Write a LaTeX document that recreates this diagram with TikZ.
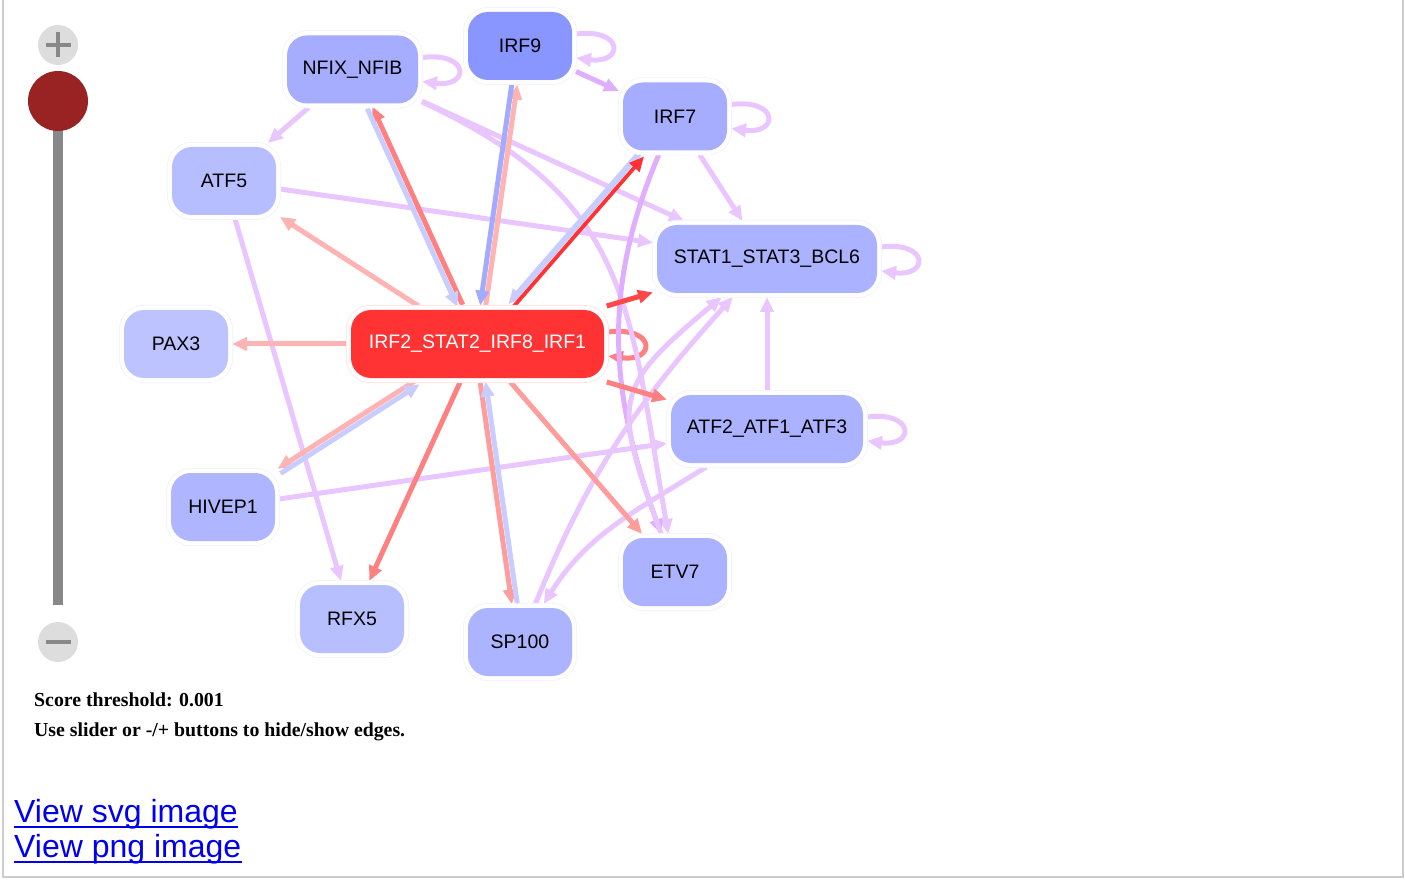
\documentclass[tikz,border=0pt]{standalone}
\usepackage{fontspec}
\setmainfont{Liberation Serif}
\newfontfamily\arialf{Liberation Sans}
\usetikzlibrary{arrows.meta,backgrounds,calc}
\definecolor{lav}{HTML}{E9C6FF}
\definecolor{lavd}{HTML}{E0AEFF}
\definecolor{pinkE}{HTML}{FFB3B3}
\definecolor{redM}{HTML}{FF8080}
\definecolor{redL}{HTML}{FF9C9C}
\definecolor{redS}{HTML}{FF4747}
\definecolor{redX}{HTML}{FF3333}
\definecolor{bluE}{HTML}{C8CCFF}
\definecolor{bluD}{HTML}{A3ABFF}
\definecolor{haloB}{HTML}{EEF0FF}
\definecolor{haloR}{HTML}{FFDCDC}
\definecolor{cNfix}{HTML}{A6ADFF}
\definecolor{cIrf9}{HTML}{8A96FF}
\definecolor{cIrf7}{HTML}{A6ADFF}
\definecolor{cAtf5}{HTML}{B7BEFF}
\definecolor{cStat}{HTML}{ABB2FF}
\definecolor{cPax}{HTML}{BDC3FF}
\definecolor{cAtf2}{HTML}{ABB2FF}
\definecolor{cHiv}{HTML}{AFB6FF}
\definecolor{cEtv}{HTML}{ABB2FF}
\definecolor{cRfx}{HTML}{B8BFFF}
\definecolor{cSp}{HTML}{ADB4FF}
\definecolor{cIrf2}{HTML}{FF3333}
\definecolor{btnC}{HTML}{DDDDDD}
\definecolor{grayS}{HTML}{888888}
\definecolor{knobC}{HTML}{992222}
\definecolor{linkC}{HTML}{0000EE}
\definecolor{borderC}{HTML}{CCCCCC}
\begin{document}
\begin{tikzpicture}[x=1pt,y=-1pt,
  nd/.style 2 args={fill=#1, rounded corners=20pt, minimum height=68pt,
    minimum width=104pt, inner sep=0pt, outer sep=4pt,
    font=\arialf\fontsize{19.5}{23}\selectfont,
    preaction={draw=#2, line width=10pt},
    preaction={draw=white, line width=8.6pt}},
  e/.style={draw=#1, line width=5pt, -{Triangle[length=15pt,width=13pt]}},
  lbl/.style={anchor=base west, inner sep=0pt}]
\useasboundingbox (0,0) rectangle (1405,882);
\draw[borderC, line width=2pt] (3,0) -- (3,877) -- (1403,877) -- (1403,0);

% nodes
\node[nd={cNfix}{haloB}, minimum width=131pt] (nfix) at (352.5,69.5) {NFIX\_NFIB};
\node[nd={cIrf9}{haloB}] (irf9) at (520,46) {IRF9};
\node[nd={cIrf7}{haloB}] (irf7) at (675,116.5) {IRF7};
\node[nd={cAtf5}{haloB}] (atf5) at (224,181) {ATF5};
\node[nd={cStat}{haloB}, minimum width=220pt] (stat) at (767,259) {STAT1\_STAT3\_BCL6};
\node[nd={cPax}{haloB}] (pax3) at (176,344) {PAX3};
\node[nd={cIrf2}{haloR}, minimum width=253pt, text=white] (irf2) at (477.5,344) {IRF2\_STAT2\_IRF8\_IRF1};
\node[nd={cAtf2}{haloB}, minimum width=192pt] (atf2) at (767,429) {ATF2\_ATF1\_ATF3};
\node[nd={cHiv}{haloB}] (hivep) at (223,507) {HIVEP1};
\node[nd={cEtv}{haloB}] (etv7) at (675,572) {ETV7};
\node[nd={cRfx}{haloB}] (rfx5) at (352,619) {RFX5};
\node[nd={cSp}{haloB}] (sp100) at (520,642) {SP100};

\begin{scope}[on background layer]
% self loops
\foreach \n/\c in {nfix/lav,irf9/lav,irf7/lav,stat/lav,atf2/lav,irf2/redM}
  \draw[e=\c] ($(\n.east)+(0,-12)$) .. controls +(48,-6) and +(48,6) .. ($(\n.east)+(0,12)$);
% lavender straight
\draw[e=lav] (nfix) -- (atf5);
\draw[e=lavd] (irf9) -- (irf7);
\draw[e=lav] (nfix) -- (stat);
\draw[e=lav] (atf5) -- (stat);
\draw[e=lav] (atf5) -- (rfx5);
\draw[e=lav] (irf7) -- (stat);
\draw[e=lav] (atf2) -- (stat);
\draw[e=lav] (hivep) -- (atf2);
% lavender curved
\draw[e=lav] (nfix) to[out=-25, in=100, looseness=1.2] (etv7);
\draw[e=lavd] (irf7) to[out=-113, in=110] (etv7);
\draw[e=lav] (sp100) to[out=68, in=-132] (stat);
\draw[e=lav] (etv7) to[out=110, in=-140, looseness=1.5] (stat);
\draw[e=lav] (atf2) to[out=-148, in=58] (sp100);
% red single
\draw[e=pinkE] (irf2) -- (atf5);
\draw[e=pinkE] (irf2) -- (pax3);
\draw[e=redM] (irf2) -- (rfx5);
\draw[e=redL] (irf2) -- (etv7);
\draw[e=redS] (irf2) -- (stat);
\draw[e=redM] (irf2) -- (atf2);
% pairs
\draw[e=redM, transform canvas={xshift=2.5pt, yshift=1.15pt}] (irf2) -- (nfix);
\draw[e=bluE, transform canvas={xshift=-2.5pt, yshift=-1.15pt}] (nfix) -- (irf2);
\draw[e=pinkE, transform canvas={xshift=2.7pt, yshift=-0.4pt}] (irf2) -- (irf9);
\draw[e=bluD, transform canvas={xshift=-2.7pt, yshift=0.4pt}] (irf9) -- (irf2);
\draw[e=bluE, line width=6pt, transform canvas={xshift=-2.1pt, yshift=1.8pt}] (irf7) -- (irf2);
\draw[e=redX, line width=3.8pt, transform canvas={xshift=2.1pt, yshift=-1.8pt}] (irf2) -- (irf7);
\draw[e=pinkE, transform canvas={xshift=-1.5pt, yshift=2.3pt}] (irf2) -- (hivep);
\draw[e=bluE, transform canvas={xshift=1.5pt, yshift=-2.3pt}] (hivep) -- (irf2);
\draw[e=redL, transform canvas={xshift=-2.7pt, yshift=-0.4pt}] (irf2) -- (sp100);
\draw[e=bluE, transform canvas={xshift=2.7pt, yshift=0.4pt}] (sp100) -- (irf2);
\end{scope}

% slider
\fill[btnC] (58,45) circle[radius=20];
\draw[grayS, line width=4pt] (45.5,45) -- (70.5,45) (58,32.5) -- (58,57.5);
\fill[grayS] (53,101) rectangle (63,605);
\fill[knobC] (58,101) circle[radius=30];
\fill[btnC] (58,642) circle[radius=20];
\draw[grayS, line width=4pt] (45.5,642) -- (70.5,642);

% texts
\node[lbl, font=\bfseries\fontsize{19.8}{24}\selectfont] (score) at (34,706) {Score threshold: 0.001};
\node[lbl, font=\bfseries\fontsize{19.8}{24}\selectfont] (use) at (34,736) {Use slider or -/+ buttons to hide/show edges.};
\node[lbl, font=\arialf\fontsize{32}{38}\selectfont, text=linkC] (svg) at (14,822) {View svg image};
\node[lbl, font=\arialf\fontsize{32}{38}\selectfont, text=linkC] (png) at (14,857) {View png image};
\draw[linkC, line width=2pt] ([yshift=-4.5pt]svg.base west) -- ([yshift=-4.5pt]svg.base east);
\draw[linkC, line width=2pt] ([yshift=-4.5pt]png.base west) -- ([yshift=-4.5pt]png.base east);
\end{tikzpicture}
\end{document}
